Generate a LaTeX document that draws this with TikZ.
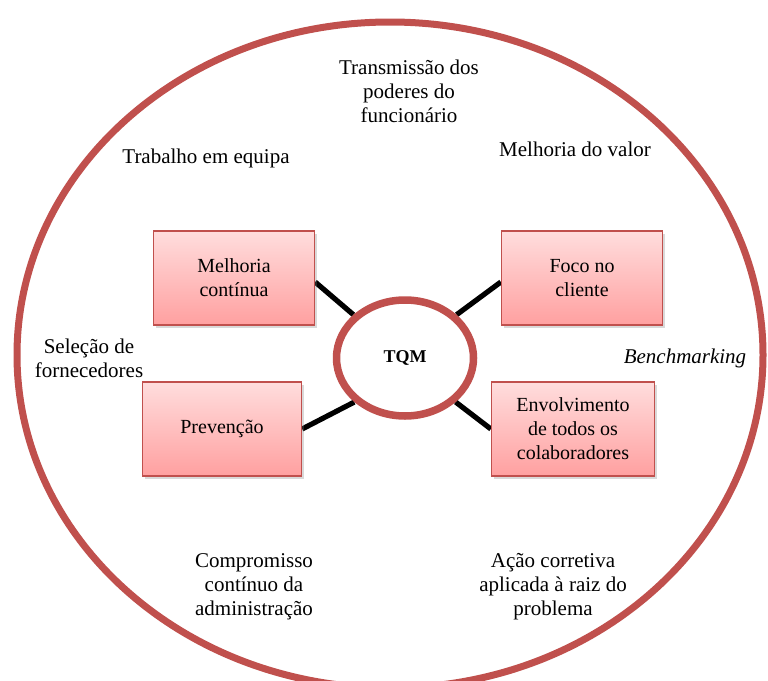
\documentclass[tikz,border=0pt]{standalone}
\usepackage{fontspec}
\setmainfont{Liberation Serif}
\usetikzlibrary{shadows,shapes.geometric}
\definecolor{redline}{RGB}{192,80,77}
\definecolor{boxtop}{RGB}{255,221,221}
\definecolor{boxbot}{RGB}{255,160,160}
\pgfdeclarelayer{bg}
\pgfsetlayers{bg,main}
\begin{document}
\begin{tikzpicture}[x=1pt,y=-1pt,
  font=\fontsize{21}{24}\selectfont,
  lbl/.style={align=center, inner sep=0pt},
  tbox/.style={draw=redline, line width=1.3pt, top color=boxtop, bottom color=boxbot,
    minimum width=161pt, minimum height=94pt, align=center, inner sep=2pt,
    font=\fontsize{20}{24}\selectfont,
    drop shadow={opacity=0.3, shadow xshift=2pt, shadow yshift=-2.5pt}},
  conn/.style={line width=5.2pt, black},
]
\useasboundingbox (0,0) rectangle (768,680);
% outer ellipse
\draw[redline, line width=7pt] (390,355) ellipse [x radius=373, y radius=333];

% free labels
\node[lbl] (trans) at (409,91) {Transmissão dos\\poderes do\\funcionário};
\node[lbl] (trab) at (206,158) {Trabalho em equipa};
\node[lbl] (valor) at (575,149) {Melhoria do valor};
\node[lbl] (selec) at (89,358) {Seleção de\\fornecedores};
\node[lbl, font=\fontsize{21}{24}\selectfont\itshape] (bench) at (685,358) {Benchmarking};
\node[lbl] (comp) at (254,587) {Compromisso\\contínuo da\\administração};
\node[lbl] (acao) at (553,587) {Ação corretiva\\aplicada à raiz do\\problema};

% center
\node[ellipse, draw=redline, line width=7.5pt, fill=white, minimum width=137pt, minimum height=116pt,
  inner sep=0pt, font=\fontsize{18}{22}\selectfont\bfseries] (tqm) at (405,358) {TQM};

% boxes
\node[tbox] (mc) at (234,278) {Melhoria\\contínua};
\node[tbox] (fc) at (582,278) {Foco no\\cliente};
\node[tbox, minimum width=159pt] (pv) at (222,429) {Prevenção};
\node[tbox, minimum width=163pt] (ev) at (573,429) {Envolvimento\\de todos os\\colaboradores};

\begin{pgfonlayer}{bg}
\draw[conn] ([yshift=-4pt]mc.east) -- (tqm.140);
\draw[conn] ([yshift=-4pt]fc.west) -- (tqm.40);
\draw[conn] (pv.east) -- (tqm.221);
\draw[conn] (ev.west) -- (tqm.319);
\end{pgfonlayer}
\end{tikzpicture}
\end{document}
